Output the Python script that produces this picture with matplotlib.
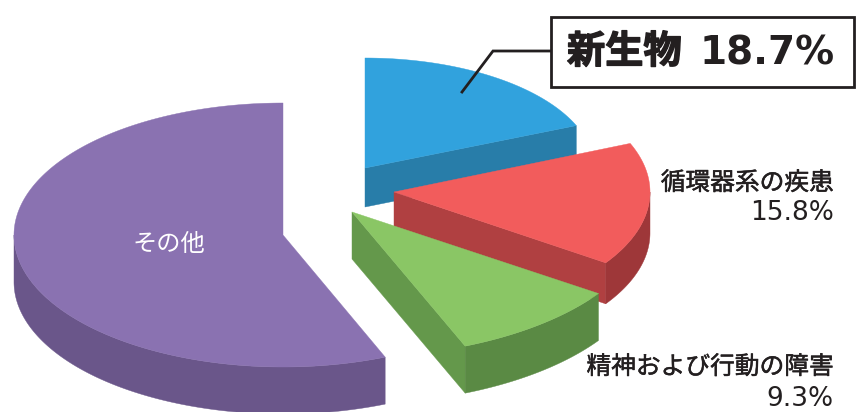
import numpy as np
import matplotlib
matplotlib.use("Agg")
import matplotlib.pyplot as plt
import matplotlib.patheffects as pe
from matplotlib.patches import Polygon, Rectangle

plt.rcParams['font.family'] = ['DejaVu Sans', 'Noto Sans CJK JP']

categories = ['新生物', '循環器系の疾患', '精神および行動の障害', 'その他']
shares = [18.7, 15.8, 9.3, 56.2]

# layout of each exploded slice, in pixels (y goes down)
apex_x = [365, 394, 352, 283]
apex_y = [168, 192, 212, 235]
rad_x = [229, 256, 298, 269]
rad_y = [110, 126, 145, 132]
depth = [39, 41, 47, 47]

top_col = ['#31a2dd', '#f25c5c', '#8ac665', '#8a72b1']
face_col = ['#287da9', '#b04041', '#64984b', '#6a568a']
rim_col = ['#287da9', '#9e3739', '#5a8a44', '#6a568a']

fig = plt.figure(figsize=(8.68, 4.12), dpi=100)
ax = fig.add_axes([0, 0, 1, 1])
ax.set_xlim(0, 868)
ax.set_ylim(412, 0)
ax.axis('off')

# angles clockwise from 12 o'clock
edges = np.concatenate([[0], np.cumsum(shares)]) / np.sum(shares) * 2 * np.pi


def rim_xy(i, t):
    return apex_x[i] + rad_x[i] * np.sin(t), apex_y[i] - rad_y[i] * np.cos(t)


def fill(xs, ys, col, z):
    ax.add_patch(Polygon(np.column_stack([xs, ys]), closed=True, facecolor=col,
                         edgecolor=col, linewidth=0.3, zorder=z))


for i in range(len(shares)):
    t0, t1 = edges[i], edges[i + 1]
    z = 10 * (i + 1)
    d = depth[i]

    # cut face at the end of the slice, only seen on the right hand slices
    if t1 < np.pi:
        ex, ey = rim_xy(i, t1)
        fill([apex_x[i], ex, ex, apex_x[i]],
             [apex_y[i], ey, ey + d, apex_y[i] + d], face_col[i], z)

    # outer wall, front half only
    a = max(t0, np.pi / 2)
    b = min(t1, 3 * np.pi / 2)
    if a < b:
        t = np.linspace(a, b, 200)
        x, y = rim_xy(i, t)
        fill(np.r_[x, x[::-1]], np.r_[y, y[::-1] + d], rim_col[i], z + 1)

    t = np.linspace(t0, t1, 300)
    x, y = rim_xy(i, t)
    fill(np.r_[apex_x[i], x], np.r_[apex_y[i], y], top_col[i], z + 2)

dark = '#231f20'
thin = [pe.withStroke(linewidth=0.35, foreground=dark)]
thick = [pe.withStroke(linewidth=1.0, foreground=dark)]

# call-out for the highlighted slice
ax.plot([550, 493, 462], [51, 51, 92], color=dark, lw=2, zorder=60,
        solid_joinstyle='miter')
ax.add_patch(Rectangle((551, 17), 303, 70, facecolor='white', edgecolor=dark,
                       linewidth=2, zorder=61))
ax.text(567, 53, categories[0], ha='left', va='center', fontsize=27.5,
        fontweight='bold', color=dark, zorder=62, path_effects=thick)
ax.text(835, 53, '%.1f%%' % shares[0], ha='right', va='center', fontsize=28,
        fontweight='bold', color=dark, zorder=62)

ax.text(834, 183, categories[1], ha='right', va='center', fontsize=17.8, color=dark,
        zorder=62, path_effects=thin)
ax.text(834, 213, '%.1f%%' % shares[1], ha='right', va='center', fontsize=19, color=dark, zorder=62)
ax.text(834, 367, categories[2], ha='right', va='center', fontsize=17.8, color=dark,
        zorder=62, path_effects=thin)
ax.text(834, 399, '%.1f%%' % shares[2], ha='right', va='center', fontsize=19, color=dark, zorder=62)
ax.text(169, 244, categories[3], ha='center', va='center', fontsize=17.5, color='white', zorder=62)

fig.savefig('out.png', dpi=100, facecolor='white')
